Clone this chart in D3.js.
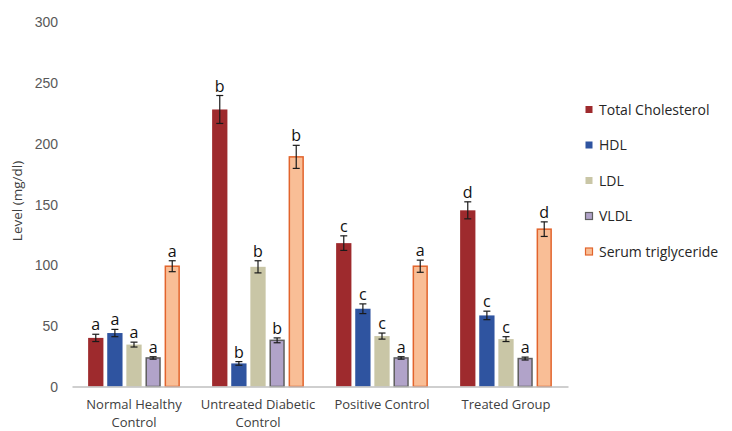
<!DOCTYPE html>
<html>
<head>
<meta charset="utf-8">
<script src="https://cdn.jsdelivr.net/npm/d3@7"></script>
<style>
  body { margin: 0; background: #fff; }
  svg { display: block; font-family: "Open Sans", "Liberation Sans", sans-serif; }
</style>
</head>
<body>
<svg id="chart" width="732" height="431"></svg>
<script>
// Groups and lipid measures
const groups = ["Normal Healthy Control", "Untreated Diabetic Control", "Positive Control", "Treated Group"];
const groupLines = [["Normal Healthy", "Control"], ["Untreated Diabetic", "Control"], ["Positive Control"], ["Treated Group"]];
const series = ["Total Cholesterol", "HDL", "LDL", "VLDL", "Serum triglyceride"];

// Mean values (mg/dl), one array per measure, ordered by group
const totalCholesterol = [40, 228, 118, 145];
const hdl = [44, 19, 64, 58.5];
const ldl = [34.5, 98.5, 41.5, 39];
const vldl = [23.5, 38, 23.5, 23];
const triglyceride = [99, 189, 99, 129.5];

// Standard errors
const errTotalCholesterol = [3, 11.5, 6, 7];
const errHdl = [3, 1.5, 4, 3.5];
const errLdl = [2, 5, 2.5, 2];
const errVldl = [1, 2, 1, 1.2];
const errTriglyceride = [4.5, 9.5, 5, 6];

// Significance letters
const letTotalCholesterol = ["a", "b", "c", "d"];
const letHdl = ["a", "b", "c", "c"];
const letLdl = ["a", "b", "c", "c"];
const letVldl = ["a", "b", "a", "a"];
const letTriglyceride = ["a", "b", "a", "d"];

const yTicks = [0, 50, 100, 150, 200, 250, 300];

const values = [totalCholesterol, hdl, ldl, vldl, triglyceride];
const errors = [errTotalCholesterol, errHdl, errLdl, errVldl, errTriglyceride];
const letters = [letTotalCholesterol, letHdl, letLdl, letVldl, letTriglyceride];

const fills = ["#9E2A2D", "#2F54A0", "#C9C6A6", "#B1A3C9", "#F9BE96"];
const strokes = [null, null, null, "#5E5E5E", "#E2642C"];

const svg = d3.select("#chart");

const x0 = d3.scaleBand().domain(groups).range([72, 568]).paddingInner(0.26).paddingOuter(0.13);
const x1 = d3.scaleBand().domain(series).range([0, x0.bandwidth()]).paddingInner(0.2);
const y = d3.scaleLinear().domain([0, 300]).range([386.5, 22]);

// Flattened records for the bars
const records = [];
groups.forEach((g, gi) => {
  series.forEach((s, si) => {
    records.push({ g, s, si, v: values[si][gi], e: errors[si][gi], l: letters[si][gi] });
  });
});

// Y axis tick labels (no axis line, no gridlines)
const yAxis = d3.axisLeft(y).tickValues(yTicks).tickSize(0).tickPadding(0);
const yg = svg.append("g").attr("transform", "translate(58,0)").call(yAxis);
yg.select(".domain").remove();
yg.selectAll("text")
  .attr("fill", "#595959")
  .style("font-size", "14px")
  .attr("dy", "0.35em");

// Y axis title
svg.append("text")
  .attr("transform", "translate(22,201) rotate(-90)")
  .attr("text-anchor", "middle")
  .attr("fill", "#404040")
  .style("font-size", "13.5px")
  .text("Level (mg/dl)");

// Bars
const bars = svg.append("g");
bars.selectAll("rect")
  .data(records)
  .join("rect")
  .attr("x", d => x0(d.g) + x1(d.s) + (strokes[d.si] ? 0.75 : 0))
  .attr("width", d => x1.bandwidth() - (strokes[d.si] ? 1.5 : 0))
  .attr("y", d => y(d.v))
  .attr("height", d => y(0) - y(d.v))
  .attr("fill", d => fills[d.si])
  .attr("stroke", d => strokes[d.si] || "none")
  .attr("stroke-width", 1.5);

// Error bars
const eb = svg.append("g").attr("stroke", "#1a1a1a").attr("stroke-width", 1.2);
records.forEach(d => {
  const cx = x0(d.g) + x1(d.s) + x1.bandwidth() / 2;
  const top = y(d.v + d.e), bot = y(d.v - d.e);
  eb.append("line").attr("x1", cx).attr("x2", cx).attr("y1", top).attr("y2", bot);
  eb.append("line").attr("x1", cx - 3.5).attr("x2", cx + 3.5).attr("y1", top).attr("y2", top);
  eb.append("line").attr("x1", cx - 3.5).attr("x2", cx + 3.5).attr("y1", bot).attr("y2", bot);
});

// Significance letters
svg.append("g").selectAll("text")
  .data(records)
  .join("text")
  .attr("x", d => x0(d.g) + x1(d.s) + x1.bandwidth() / 2)
  .attr("y", d => y(d.v + d.e) - 4)
  .attr("text-anchor", "middle")
  .attr("fill", "#111")
  .style("font-size", "16px")
  .text(d => d.l);

// Category axis line
const xAxis = d3.axisBottom(x0).tickSize(0).tickFormat("");
const xg = svg.append("g").attr("transform", `translate(0,${y(0)})`).call(xAxis);
xg.select(".domain").attr("stroke", "#BFBFBF").attr("stroke-width", 1.5);

// Category labels, one text element per line
const labels = svg.append("g");
groups.forEach((g, gi) => {
  groupLines[gi].forEach((line, li) => {
    labels.append("text")
      .attr("x", x0(g) + x0.bandwidth() / 2)
      .attr("y", 409 + li * 18)
      .attr("text-anchor", "middle")
      .attr("fill", "#404040")
      .style("font-size", "13px")
      .text(line);
  });
});

// Legend
const legend = svg.append("g");
series.forEach((s, si) => {
  const ly = 110 + si * 35.5;
  legend.append("rect")
    .attr("x", 585.5).attr("y", ly - 4)
    .attr("width", 7).attr("height", 7)
    .attr("fill", fills[si])
    .attr("stroke", strokes[si] || "none")
    .attr("stroke-width", 1.2);
  legend.append("text")
    .attr("x", 599).attr("y", ly)
    .attr("dy", "0.35em")
    .attr("fill", "#262626")
    .style("font-size", "14px")
    .text(s);
});
</script>
</body>
</html>
